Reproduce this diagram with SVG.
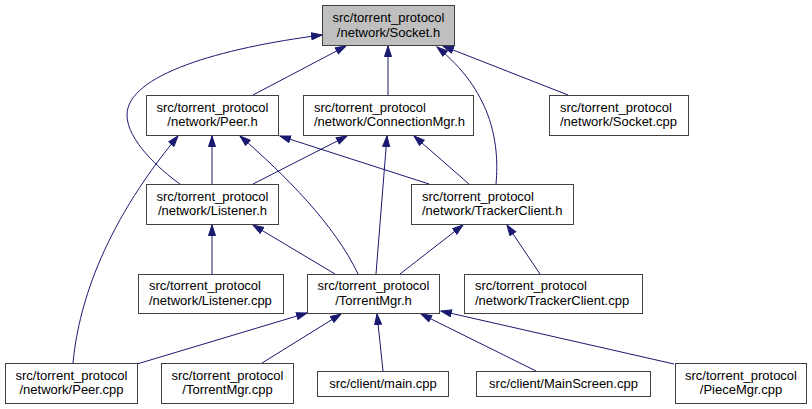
<svg xmlns="http://www.w3.org/2000/svg" width="812" height="409" viewBox="0 0 812 409">
<style>
.box{fill:#ffffff;stroke:#404040;stroke-width:1}
.root{fill:#bfbfbf;stroke:#404040;stroke-width:1}
text{font-family:"Liberation Sans",Arial,Helvetica,sans-serif;font-size:13px;fill:#000000}
.c{text-anchor:middle}
.l{text-anchor:start}
.e{fill:none;stroke:#191970;stroke-width:1;marker-end:url(#ah)}
</style>
<defs>
<marker id="ah" markerUnits="userSpaceOnUse" markerWidth="12" markerHeight="9" refX="11" refY="4" orient="auto">
<path d="M0.5,0.5 L11,4 L0.5,7.5 z" fill="#191970" stroke="#191970" stroke-width="1"/>
</marker>
</defs>
<g id="edges">
<path class="e" d="M253,95 L346,46"/>
<path class="e" d="M180,184 C160,170 127,140 127,115 C127,75 220,48 322,35"/>
<path class="e" d="M388,95 L388,46"/>
<path class="e" d="M496,184 C500,140 490,90 437,47"/>
<path class="e" d="M568,95 L443,46"/>
<path class="e" d="M212,184 L212,136"/>
<path class="e" d="M429,184 L280,136"/>
<path class="e" d="M358,274 C335,225 285,175 240,136"/>
<path class="e" d="M73,363 C78,310 100,230 178,136"/>
<path class="e" d="M253,184 L347,136"/>
<path class="e" d="M376,274 L387,136"/>
<path class="e" d="M469,184 L414,136"/>
<path class="e" d="M212,274 L212,225"/>
<path class="e" d="M335,274 L253,225"/>
<path class="e" d="M400,274 L463,225"/>
<path class="e" d="M540,274 L507,225"/>
<path class="e" d="M137,364 L307,313"/>
<path class="e" d="M262,363 L341,314"/>
<path class="e" d="M383,371 L377,314"/>
<path class="e" d="M536,371 L421,314"/>
<path class="e" d="M674,364 L441,311"/>
</g>
<g id="socket_h">
<rect class="root" x="322.5" y="5.5" width="132" height="40"/>
<text class="c" x="388.5" y="22">src/torrent_protocol</text>
<text class="c" x="388.5" y="36.5">/network/Socket.h</text>
</g>
<g id="peer_h">
<rect class="box" x="146.5" y="95.5" width="132" height="40"/>
<text class="c" x="212.5" y="111.5">src/torrent_protocol</text>
<text class="c" x="212.5" y="126">/network/Peer.h</text>
</g>
<g id="connectionmgr_h">
<rect class="box" x="303.5" y="95.5" width="170" height="40"/>
<text class="l" x="314" y="111.5">src/torrent_protocol</text>
<text class="l" x="314" y="126">/network/ConnectionMgr.h</text>
</g>
<g id="socket_cpp">
<rect class="box" x="549.5" y="95.5" width="139" height="40"/>
<text class="l" x="560" y="111.5">src/torrent_protocol</text>
<text class="l" x="560" y="126">/network/Socket.cpp</text>
</g>
<g id="listener_h">
<rect class="box" x="146.5" y="184.5" width="132" height="40"/>
<text class="c" x="212.5" y="200.5">src/torrent_protocol</text>
<text class="c" x="212.5" y="215">/network/Listener.h</text>
</g>
<g id="trackerclient_h">
<rect class="box" x="411.5" y="184.5" width="162" height="40"/>
<text class="l" x="422" y="200.5">src/torrent_protocol</text>
<text class="l" x="422" y="215">/network/TrackerClient.h</text>
</g>
<g id="listener_cpp">
<rect class="box" x="138.5" y="274.5" width="145" height="39"/>
<text class="l" x="149" y="290">src/torrent_protocol</text>
<text class="l" x="149" y="304.5">/network/Listener.cpp</text>
</g>
<g id="torrentmgr_h">
<rect class="box" x="307.5" y="274.5" width="132" height="39"/>
<text class="c" x="373.5" y="290">src/torrent_protocol</text>
<text class="c" x="373.5" y="304.5">/TorrentMgr.h</text>
</g>
<g id="trackerclient_cpp">
<rect class="box" x="464.5" y="274.5" width="178" height="39"/>
<text class="l" x="475" y="290">src/torrent_protocol</text>
<text class="l" x="475" y="304.5">/network/TrackerClient.cpp</text>
</g>
<g id="peer_cpp">
<rect class="box" x="5.5" y="363.5" width="132" height="40"/>
<text class="c" x="71.5" y="379.5">src/torrent_protocol</text>
<text class="c" x="71.5" y="394">/network/Peer.cpp</text>
</g>
<g id="torrentmgr_cpp">
<rect class="box" x="161.5" y="363.5" width="132" height="40"/>
<text class="c" x="227.5" y="379.5">src/torrent_protocol</text>
<text class="c" x="227.5" y="394">/TorrentMgr.cpp</text>
</g>
<g id="main_cpp">
<rect class="box" x="317.5" y="371.5" width="131" height="25"/>
<text class="c" x="383" y="388">src/client/main.cpp</text>
</g>
<g id="mainscreen_cpp">
<rect class="box" x="476.5" y="371.5" width="174" height="25"/>
<text class="c" x="563.5" y="388">src/client/MainScreen.cpp</text>
</g>
<g id="piecemgr_cpp">
<rect class="box" x="675.5" y="363.5" width="131" height="40"/>
<text class="c" x="741" y="379.5">src/torrent_protocol</text>
<text class="c" x="741" y="394">/PieceMgr.cpp</text>
</g>
</svg>
